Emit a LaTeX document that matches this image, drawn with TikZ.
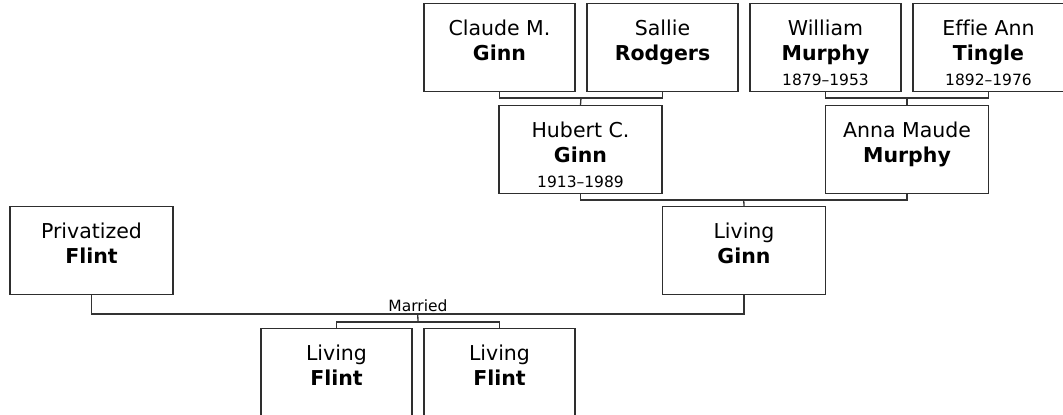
\documentclass[tikz,border=0pt]{standalone}
\usepackage{fontspec}
\setmainfont[Ligatures=NoCommon]{DejaVu Sans}
\definecolor{boxgray}{HTML}{2e2e2e}
\definecolor{linkgray}{HTML}{333333}
\newcommand{\datefont}{\fontsize{15.5}{20}\selectfont}
\newcommand{\who}[3]{\rule{0pt}{32pt}#1\\\textbf{#2}\\{\datefont #3\strut}}

\begin{document}
\begin{tikzpicture}[x=1pt, y=-1pt,
  person/.style={draw=boxgray, line width=1.3pt, fill=white, minimum height=85pt,
    inner sep=0pt, align=center, font=\fontsize{20.5}{25}\selectfont},
  narrow/.style={person, minimum width=151pt},
  wide/.style={person, minimum width=163pt},
  link/.style={draw=linkgray, line width=1.3pt}]
  \useasboundingbox (0,0) rectangle (1063,415);

  % ---------------- grandparents ----------------
  \node[narrow] (claude)  at (499.5,47.5) {\who{Claude M.}{Ginn}{}};
  \node[narrow] (sallie)  at (662.5,47.5) {\who{Sallie}{Rodgers}{}};
  \node[narrow] (william) at (825.5,47.5) {\who{William}{Murphy}{1879--1953}};
  \node[narrow] (effie)   at (988.5,47.5) {\who{Effie Ann}{Tingle}{1892--1976}};

  % ---------------- parents ----------------
  \node[wide] (hubert) at (580.5,149.5) {\who{Hubert C.}{Ginn}{1913--1989}};
  \node[wide] (anna)   at (907,149.5)   {\who{Anna Maude}{Murphy}{}};

  \node[wide] (ginn)  at (744,250.5)  {\who{Living}{Ginn}{}};
  \node[wide] (priv)  at (91.5,250.5) {\who{Privatized}{Flint}{}};

  % ---------------- children ----------------
  \node[narrow] (kidone) at (336.5,372.5) {\who{Living}{Flint}{}};
  \node[narrow] (kidtwo) at (499.5,372.5) {\who{Living}{Flint}{}};

  % bars between couples
  \coordinate (ginnbar)   at (581,98);
  \coordinate (murphybar) at (907,98);
  \coordinate (midbar)    at (743.75,200);
  \coordinate (married)   at (417.75,314);
  \coordinate (kidbar)    at (418,322);

  \draw[link] (claude.south) |- (ginnbar) -| (sallie.south);
  \draw[link] (ginnbar) -- (hubert.north);
  \draw[link] (william.south) |- (murphybar) -| (effie.south);
  \draw[link] (murphybar) -- (anna.north);
  \draw[link] (hubert.south) |- (midbar) -| (anna.south);
  \draw[link] (midbar) -- (ginn.north);
  \draw[link] (priv.south) |- (married) -| (ginn.south);
  \node[anchor=base, font=\fontsize{15.5}{18}\selectfont, inner sep=0pt]
    (marriedlbl) at (418,311.5) {Married};
  \draw[link] (kidone.north) |- (kidbar) -| (kidtwo.north);
  \draw[link] (kidbar) -- (married);
\end{tikzpicture}
\end{document}
